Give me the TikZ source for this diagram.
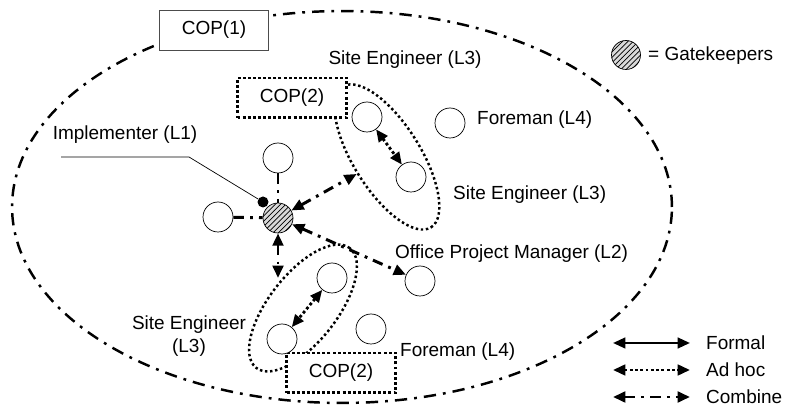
\documentclass[tikz,border=0pt]{standalone}
\usepackage{fontspec}
\setmainfont{Liberation Sans}
\usetikzlibrary{arrows.meta,shapes.geometric,patterns}

\begin{document}
\begin{tikzpicture}[
    x=0.02cm, y=-0.02cm,
    font=\fontsize{10.8}{12.8}\selectfont,
    member/.style={circle,draw,thin,minimum size=0.6cm,inner sep=0pt,fill=white},
    gate/.style={member,fill=gray!30,postaction={pattern=north east lines}},
    cop/.style={draw=black!70,thin,fill=white,minimum width=2.18cm,minimum height=0.8cm},
    copdot/.style={draw,fill=white,line width=1.7pt,dash pattern=on 1.7pt off 1.2pt,minimum width=2.18cm,minimum height=0.8cm},
    group/.style={ellipse,draw,line width=1.4pt,dash pattern=on 1.4pt off 1.5pt,inner sep=0pt},
    tips/.style={{Triangle[length=7pt,width=6pt]}-{Triangle[length=7pt,width=6pt]}},
    formal/.style={tips,line width=1.4pt},
    adhoc/.style={tips,line width=1.6pt,dash pattern=on 1.6pt off 1.4pt},
    combine/.style={line width=1.7pt,dash pattern=on 6pt off 3.5pt on 1.6pt off 3.5pt}
  ]
  \useasboundingbox (0,0) rectangle (785,411);
  \draw[line width=1.4pt,dash pattern=on 7pt off 4pt on 1.6pt off 4pt] (342,207) ellipse [x radius=6.6cm,y radius=3.92cm];

  \node[group,minimum width=3.32cm,minimum height=1.34cm,rotate=-58] (grpA) at (387,157) {};
  \node[group,minimum width=3.04cm,minimum height=1.36cm,rotate=52] (grpB) at (303,308) {};

  \node[cop] (cop1) at (214,30) {COP(1)};
  \node[copdot] (copA) at (292,98) {COP(2)};
  \node[copdot] (copB) at (341,373) {COP(2)};

  \node[gate] (gk) at (278,218) {};
  \node[member] (topA) at (278,158) {};
  \node[member] (leftA) at (218,217) {};
  \node[member] (seA1) at (367,117) {};
  \node[member] (seA2) at (411,177) {};
  \node[member] (fmA) at (450,123) {};
  \node[member] (opm) at (420,281) {};
  \node[member] (seB1) at (332,278) {};
  \node[member] (seB2) at (282,339) {};
  \node[member] (fmB) at (371,329) {};
  \node[circle,fill,inner sep=0pt,minimum size=0.22cm] (pin) at (263,202) {};

  \node (lblSeTop) at (405,60) {Site Engineer (L3)};
  \node[anchor=west] (lblFmA) at (471,120) {Foreman (L4)};
  \node (lblImpl) at (125,135) {Implementer (L1)};
  \node[anchor=west] (lblSeA) at (447,195) {Site Engineer (L3)};
  \node[anchor=west] (lblOpm) at (389,254) {Office Project Manager (L2)};
  \node[align=center] (lblSeB) at (189,336) {Site Engineer\\(L3)};
  \node[anchor=west] (lblFmB) at (394,352) {Foreman (L4)};

  \coordinate (implA) at (61,157);
  \coordinate (implB) at (189,157);
  \coordinate (grpBtip) at (278,278);
  \draw[thin] (implA) -- (implB) -- (pin);

  \draw[combine] (topA) -- (gk);
  \draw[combine] (leftA) -- (gk);
  \draw[combine,tips] (gk) -- (grpA);
  \draw[combine,tips] (gk) -- (opm);
  \draw[combine,tips] (gk) -- (grpBtip);
  \draw[adhoc] (seA1) -- (seA2);
  \draw[adhoc] (seB1) -- (seB2);

  \node[gate,minimum size=0.58cm] (legGate) at (626,55) {};
  \node[anchor=west] (lblGate) at (642,56) {= Gatekeepers};

  \coordinate (legA1) at (613,343);
  \coordinate (legA2) at (690,343);
  \coordinate (legB1) at (613,370);
  \coordinate (legB2) at (690,370);
  \coordinate (legC1) at (613,397);
  \coordinate (legC2) at (690,397);
  \draw[formal] (legA1) -- (legA2);
  \draw[adhoc] (legB1) -- (legB2);
  \draw[combine,tips] (legC1) -- (legC2);
  \node[anchor=west] (lblFormal) at (700,343) {Formal};
  \node[anchor=west] (lblAdhoc) at (700,370) {Ad hoc};
  \node[anchor=west] (lblCombine) at (700,397) {Combine};
\end{tikzpicture}
\end{document}
